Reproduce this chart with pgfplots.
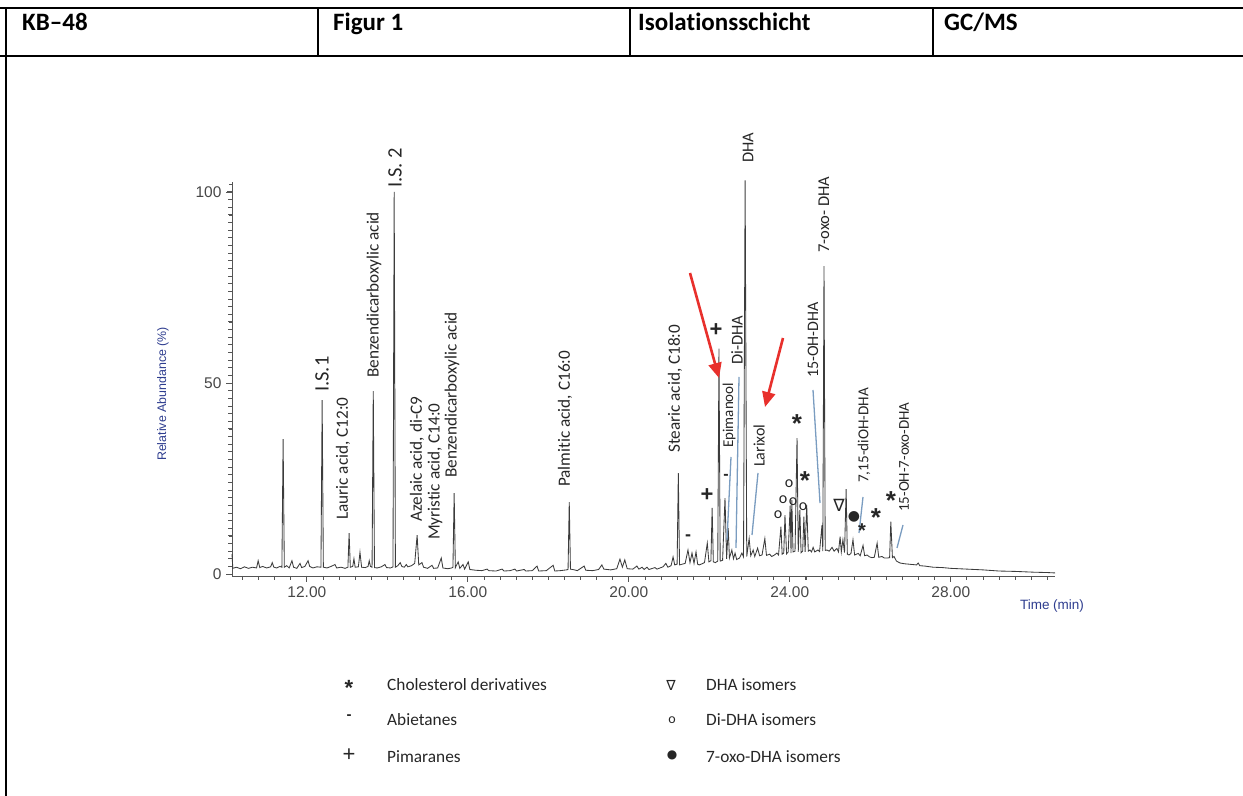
\documentclass[border=0pt]{standalone}
\usepackage{fontspec}
\usepackage{pgfplots}
\pgfplotsset{compat=1.18}
\usetikzlibrary{arrows.meta}
\setmainfont{Carlito}
\newfontfamily\lib{Liberation Sans}
\newfontfamily\dejavu{DejaVu Sans}
\newfontfamily\carlito[Ligatures=NoCommon]{Carlito}
\definecolor{trace}{HTML}{3C3C3C}
\definecolor{axcol}{HTML}{555555}
\definecolor{navy}{HTML}{2E3D8F}
\definecolor{leader}{HTML}{7A9CC0}
\definecolor{arrowred}{HTML}{E8302C}
\newcommand{\fs}[1]{\fontsize{#1bp}{#1bp}\selectfont}
\begin{document}
\begin{tikzpicture}
\begin{scope}[x=1bp,y=1bp]
\useasboundingbox (0,0) rectangle (1243,796);
% header table
\draw[line width=1.5bp] (0,788) -- (1243,788);
\draw[line width=1.5bp] (0,740) -- (1243,740);
\draw[line width=1.2bp] (6,788) -- (6,0);
\foreach \xx in {318,630,933} \draw[line width=1.2bp] (\xx,788) -- (\xx,740);
\node[anchor=base west,inner sep=0,font=\carlito\bfseries\fs{25}] at (22,765) {KB–48};
\node[anchor=base west,inner sep=0,font=\carlito\bfseries\fs{25}] at (333,765) {Figur 1};
\node[anchor=base west,inner sep=0,font=\carlito\bfseries\fs{25}] at (638,765) {Isolationsschicht};
\node[anchor=base west,inner sep=0,font=\carlito\bfseries\fs{25}] at (944,765) {GC/MS};
\end{scope}

\begin{axis}[
  at={(232bp,220bp)}, anchor=south west,
  scale only axis, width=823bp, height=394bp,
  xmin=10.14, xmax=30.59, ymin=-0.5, ymax=102.6,
  axis x line*=bottom, axis y line*=left,
  axis line style={axcol, line width=0.9bp},
  xtick={12,16,20,24,28}, xticklabels={12.00,16.00,20.00,24.00,28.00},
  ytick={0,50,100}, yticklabels={0,50,100},
  minor x tick num=9, minor y tick num=24,
  tick align=outside,
  major tick length=6bp, minor tick length=4bp,
  tick style={draw=axcol, line width=0.8bp},
  tick label style={font=\lib\fs{15.5}, text=black!72},
  xticklabel style={yshift=-1bp},
  yticklabel style={xshift=-1bp},
  clip=false,
]
\addplot[trace, line width=0.85bp] coordinates {
(10.14,5.2)(10.16,1.5)(10.25,1.8)(10.35,1.4)(10.45,1.9)(10.55,1.5)(10.65,1.8)(10.75,1.6)(10.79,3.5)(10.83,1.7)(10.9,2.0)(11.0,1.6)(11.1,1.9)(11.14,3.0)(11.18,1.8)(11.25,1.6)(11.33,2.0)(11.38,1.8)(11.41,35.3)(11.44,1.8)(11.5,2.2)(11.56,1.6)(11.63,3.5)(11.67,1.8)(11.75,1.5)(11.83,2.8)(11.87,1.7)(11.95,2.0)(12.03,3.5)(12.07,2.0)(12.15,1.6)(12.25,1.9)(12.35,1.8)(12.38,45.5)(12.41,1.8)(12.5,1.6)(12.6,2.0)(12.7,2.5)(12.74,1.6)(12.85,1.8)(12.95,1.5)(13.02,1.8)(13.05,10.7)(13.08,1.8)(13.14,2.0)(13.17,4.0)(13.2,1.8)(13.28,1.9)(13.32,5.7)(13.36,1.8)(13.45,1.7)(13.52,2.0)(13.55,3.5)(13.58,2.0)(13.62,1.8)(13.65,47.9)(13.68,1.7)(13.75,1.6)(13.85,1.9)(13.94,2.5)(13.98,1.7)(14.08,1.6)(14.14,1.9)(14.17,100)(14.2,1.8)(14.26,2.2)(14.32,3.0)(14.36,2.0)(14.42,1.8)(14.47,2.5)(14.51,1.9)(14.6,2.2)(14.68,2.8)(14.74,10.2)(14.78,2.4)(14.86,3.0)(14.9,1.8)(15.0,1.5)(15.11,2.3)(15.15,1.5)(15.25,1.6)(15.34,4.2)(15.38,1.6)(15.5,1.4)(15.6,1.6)(15.63,1.8)(15.66,21.2)(15.69,1.7)(15.76,3.2)(15.8,1.5)(15.88,2.5)(15.92,1.3)(16.01,3.2)(16.05,1.2)(16.2,1.0)(16.35,0.9)(16.48,1.3)(16.52,0.9)(16.7,0.8)(16.85,1.3)(16.9,0.8)(17.05,0.9)(17.17,1.3)(17.21,0.8)(17.4,1.2)(17.44,0.8)(17.6,0.9)(17.72,2.1)(17.76,0.8)(17.95,0.9)(18.12,2.3)(18.16,0.8)(18.3,0.9)(18.45,1.1)(18.49,1.2)(18.52,18.8)(18.55,1.3)(18.65,1.1)(18.72,0.9)(18.89,2.1)(18.93,1.0)(19.1,0.9)(19.25,1.2)(19.33,2.4)(19.38,1.3)(19.55,1.1)(19.7,1.4)(19.78,3.9)(19.84,1.8)(19.9,3.7)(19.96,1.4)(20.1,1.3)(20.2,2.1)(20.25,1.3)(20.33,1.8)(20.38,1.2)(20.45,1.8)(20.5,1.2)(20.65,1.7)(20.7,1.3)(20.85,1.9)(20.92,2.8)(20.97,1.8)(21.05,2.2)(21.1,4.5)(21.14,2.4)(21.2,2.6)(21.23,26.4)(21.26,2.4)(21.33,2.6)(21.4,2.8)(21.47,6.3)(21.52,3.0)(21.57,5.5)(21.62,2.8)(21.67,5.8)(21.71,2.6)(21.75,2.4)(21.82,2.7)(21.88,3.0)(21.95,8.1)(21.99,3.2)(22.04,3.5)(22.07,17.3)(22.1,3.2)(22.15,3.0)(22.21,3.4)(22.24,59)(22.27,3.4)(22.33,3.6)(22.39,19.9)(22.43,4.0)(22.47,12)(22.5,4.2)(22.56,6.3)(22.6,4.0)(22.64,5.5)(22.68,3.8)(22.75,4.2)(22.81,5.5)(22.85,4.5)(22.89,103)(22.93,4.6)(22.99,9.3)(23.03,4.8)(23.09,6.3)(23.13,4.6)(23.2,6.8)(23.25,4.8)(23.31,5.0)(23.38,9.3)(23.42,4.9)(23.5,5.2)(23.55,4.6)(23.62,5.0)(23.68,5.5)(23.72,5.0)(23.78,12.4)(23.81,5.2)(23.85,5.5)(23.88,15.4)(23.92,5.3)(23.96,5.8)(24.01,18)(24.03,5.5)(24.05,19.4)(24.08,5.8)(24.13,6.0)(24.18,35.6)(24.21,5.8)(24.25,16.8)(24.28,5.6)(24.32,6.0)(24.35,15)(24.38,5.8)(24.42,18.1)(24.46,6.0)(24.5,6.3)(24.54,5.8)(24.58,7.0)(24.62,5.8)(24.7,6.3)(24.74,5.9)(24.8,12.8)(24.82,6.0)(24.85,80.6)(24.88,6.2)(24.92,6.3)(24.98,6.0)(25.05,7.0)(25.1,6.0)(25.17,6.7)(25.21,5.8)(25.25,9.8)(25.28,5.8)(25.32,9.0)(25.36,5.6)(25.4,22.2)(25.43,5.2)(25.47,5.0)(25.52,5.4)(25.57,9.0)(25.61,5.0)(25.7,5.4)(25.75,4.8)(25.82,7.5)(25.86,4.8)(25.92,5.0)(25.98,4.5)(26.04,4.3)(26.1,4.4)(26.17,8.1)(26.21,4.4)(26.29,4.6)(26.35,4.2)(26.42,4.2)(26.48,4.3)(26.51,13.7)(26.55,4.3)(26.59,4.6)(26.65,3.4)(26.74,2.9)(26.85,2.7)(26.95,2.6)(27.05,2.5)(27.15,2.4)(27.19,2.9)(27.23,2.2)(27.35,2.1)(27.56,1.8)(27.8,1.7)(28.0,1.5)(28.4,1.3)(28.8,1.1)(29.2,0.8)(29.6,0.7)(30.05,0.5)(30.4,0.4)(30.59,0.3)
};
\end{axis}

\begin{scope}[x=1bp,y=1bp]
% explicit tick marks (axis decoration)
\foreach \k in {0,...,50} {
  \pgfmathsetmacro\px{232+(10.4+0.4*\k-10.14)*40.2445}
  \draw[axcol, line width=0.8bp] (\px,220) -- (\px,216);
}
\foreach \t in {12,16,20,24,28} {
  \pgfmathsetmacro\px{232+(\t-10.14)*40.2445}
  \draw[axcol, line width=0.9bp] (\px,220) -- (\px,214);
}
\foreach \v in {0,2,...,102} {
  \pgfmathsetmacro\py{220+(\v+0.5)*3.8215}
  \draw[axcol, line width=0.7bp] (232,\py) -- (229,\py);
}
\foreach \v in {0,50,100} {
  \pgfmathsetmacro\py{220+(\v+0.5)*3.8215}
  \draw[axcol, line width=0.9bp] (232,\py) -- (227,\py);
}

% axis titles
\node[rotate=90,font=\lib\fs{12.4},text=navy,inner sep=0] at (163,402) {Relative Abundance (\%)};
\node[font=\lib\fs{13.5},text=navy,inner sep=0] at (1052,190) {Time (min)};

% peak labels (rotated)
\begin{scope}[every node/.style={rotate=90,anchor=west,inner sep=0,text=black!85}]
\node[font=\carlito\fs{20.5}] at (322,404) {I.S.1};
\node[font=\carlito\fs{17.2}] at (343,276) {Lauric acid, C12:0};
\node[font=\carlito\fs{17.2}] at (374,418) {Benzendicarboxylic acid};
\node[font=\carlito\fs{20.5}] at (395,608) {I.S. 2};
\node[font=\carlito\fs{17.2}] at (417,274) {Azelaic acid, di-C9};
\node[font=\carlito\fs{17.2}] at (435,256) {Myristic acid, C14:0};
\node[font=\carlito\fs{17.2}] at (452,318) {Benzendicarboxylic acid};
\node[font=\carlito\fs{17.2}] at (565,309) {Palmitic acid, C16:0};
\node[font=\carlito\fs{17.2}] at (675,343) {Stearic acid, C18:0};
\node[font=\carlito\fs{15}] at (729,348) {Epimanool};
\node[font=\carlito\fs{16.5}] at (737,431) {Di-DHA};
\node[font=\carlito\fs{16.5}] at (748,633) {DHA};
\node[font=\carlito\fs{16}] at (759,329) {Larixol};
\node[font=\carlito\fs{16}] at (813,418) {15-OH-DHA};
\node[font=\carlito\fs{16.5}] at (824,543) {7-oxo- DHA};
\node[font=\carlito\fs{15.2}] at (864,313) {7,15-diOH-DHA};
\node[font=\carlito\fs{15}] at (904,284) {15-OH-7-oxo-DHA};
\end{scope}

% leader lines
\begin{scope}[leader, line width=1.3bp]
\draw (731,339) -- (727,256);
\draw (739,419) -- (736,248);
\draw (758,323) -- (752,261);
\draw (813,406) -- (820,293);
\draw (863,299) -- (859,263);
\draw (903,271) -- (897,248);
\end{scope}

% class symbols in the chart
\begin{scope}[every node/.style={inner sep=0,text=black!85}]
\node[font=\lib\bfseries\fs{22}] at (716,466) {+};
\node[font=\lib\bfseries\fs{22}] at (707,301) {+};
\node[font=\lib\bfseries\fs{18}] at (688,258) {-};
\node[font=\lib\bfseries\fs{16}] at (726,319) {-};
\node[font=\lib\bfseries\fs{26}] at (797,372) {*};
\node[font=\lib\bfseries\fs{26}] at (805,315) {*};
\node[font=\lib\bfseries\fs{20}] at (862,265) {*};
\node[font=\lib\bfseries\fs{26}] at (876,278) {*};
\node[font=\lib\bfseries\fs{26}] at (891,295) {*};
\node[font=\carlito\fs{16}] at (778,281) {o};
\node[font=\carlito\fs{16}] at (783,296) {o};
\node[font=\carlito\fs{16}] at (789,312) {o};
\node[font=\carlito\fs{16}] at (793,294) {o};
\node[font=\carlito\fs{16}] at (803,289) {o};
\node[font=\dejavu\fs{17}] at (839,291) {∇};
\node[font=\dejavu\fs{14}] at (854,279) {●};
\end{scope}

% red arrows
\draw[arrowred, line width=2.6bp, -{Triangle[length=15bp,width=13bp]}] (690,523) -- (719,418);
\draw[arrowred, line width=2.6bp, -{Triangle[length=15bp,width=13bp]}] (783,458) -- (765,389);

% legend
\begin{scope}[every node/.style={inner sep=0,text=black!85}]
\node[font=\lib\bfseries\fs{22}] at (349,108) {*};
\node[font=\lib\bfseries\fs{15}] at (349,79) {-};
\node[font=\lib\fs{22}] at (349,41) {+};
\node[font=\dejavu\fs{14}] at (671,111) {∇};
\node[font=\carlito\fs{14}] at (672,76) {o};
\node[font=\dejavu\fs{12}] at (672,41) {●};
\node[anchor=west,font=\carlito\fs{17.3}] at (387,111) {Cholesterol derivatives};
\node[anchor=west,font=\carlito\fs{17.3}] at (387,76) {Abietanes};
\node[anchor=west,font=\carlito\fs{17.3}] at (387,39) {Pimaranes};
\node[anchor=west,font=\carlito\fs{17.3}] at (706,111) {DHA isomers};
\node[anchor=west,font=\carlito\fs{17.3}] at (706,76) {Di-DHA isomers};
\node[anchor=west,font=\carlito\fs{17.3}] at (706,39) {7-oxo-DHA isomers};
\end{scope}
\end{scope}
\end{tikzpicture}
\end{document}
